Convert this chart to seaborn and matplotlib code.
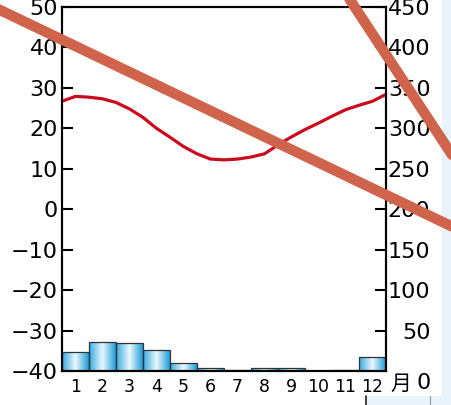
import matplotlib
matplotlib.use('Agg')
import matplotlib.pyplot as plt
import seaborn as sns
import numpy as np
from matplotlib.colors import LinearSegmentedColormap
from matplotlib.patches import Rectangle
from matplotlib.lines import Line2D

# monthly climate data
months = [str(m) for m in range(1, 13)]
precip = [24, 36, 35, 26, 9.5, 4, 1.5, 4, 4, 0, 1, 17]
# temperature curve, read every half month (0.5 / 12.5 = left / right frame)
temp_months = [0.5, 1, 1.5, 2, 2.5, 3, 3.5, 4, 4.5, 5, 5.5, 6, 6.5,
               7, 7.5, 8, 8.5, 9, 9.5, 10, 10.5, 11, 11.5, 12, 12.5]
temp = [26.7, 27.9, 27.7, 27.3, 26.4, 24.8, 22.7, 20.0, 17.8, 15.5, 13.7, 12.4, 12.2,
        12.4, 12.9, 13.7, 15.9, 17.9, 19.7, 21.3, 23.0, 24.6, 25.7, 26.7, 28.4]

temp_ticks = list(range(-40, 51, 10))
precip_ticks = list(range(0, 451, 50))

sns.set_style('ticks')
plt.rcParams['font.family'] = ['DejaVu Sans', 'Noto Sans CJK JP']
plt.rcParams['text.color'] = 'black'
plt.rcParams['xtick.color'] = 'black'
plt.rcParams['ytick.color'] = 'black'

W, H = 452, 405
fig = plt.figure(figsize=(W / 100, H / 100), dpi=100)
fig.patch.set_facecolor('white')

# page bits around the chart (screenshot background)
bg = '#e9f3fb'
fig.add_artist(Rectangle((442 / W, 0), 10 / W, 1, transform=fig.transFigure, color=bg, zorder=0))
fig.add_artist(Rectangle((366 / W, 0), 86 / W, 9 / H, transform=fig.transFigure, color=bg, zorder=0))
fig.add_artist(Line2D([366 / W, 366 / W], [0, 9 / H], transform=fig.transFigure, color='#222', lw=1.2))
fig.add_artist(Line2D([430 / W, 430 / W], [0, 9 / H], transform=fig.transFigure, color='#999', lw=0.8))

ax = fig.add_axes([62 / W, 34 / H, 324 / W, 364 / H])
ax2 = ax.twinx()

# precipitation bars (right axis)
sns.barplot(x=months, y=precip, ax=ax2, width=1.0, color='#3aaee4',
            edgecolor='#333333', linewidth=0.9, saturation=1)
cmap = LinearSegmentedColormap.from_list('bar', ['#35aae2', '#eef8fd', '#1d9ed9'])
grad = np.linspace(0, 1, 64).reshape(1, -1)
for p in ax2.patches:
    if p.get_height() <= 0:
        continue
    x0, y0 = p.get_x(), p.get_y()
    im = ax2.imshow(grad, extent=[x0, x0 + p.get_width(), y0, y0 + p.get_height()],
                    aspect='auto', cmap=cmap, zorder=p.get_zorder() - 0.1)
    im.set_clip_path(p)
    p.set_facecolor('none')
ax2.set_xlim(-0.5, 11.5)
ax2.set_ylim(0, 450)
ax2.set_yticks(precip_ticks)
ax2.set_yticklabels(['' if v == 0 else str(v) for v in precip_ticks])
ax2.set_ylabel('')
for lbl in ax2.get_yticklabels():
    lbl.set_horizontalalignment('right')
ax2.tick_params(axis='y', direction='in', length=8, width=1.5, labelsize=16, pad=32)

# temperature curve (left axis); bar k sits at category index k-1
sns.lineplot(x=[m - 1 for m in temp_months], y=temp, ax=ax, color='#cc0a1e', lw=2.3, sort=False)
ax.set_ylim(-40, 50)
ax.set_yticks(temp_ticks)
ax.set_xlim(-0.5, 11.5)
ax.set_xticks(range(12))
ax.set_xticklabels(months)
ax.tick_params(axis='y', direction='in', length=8, width=1.5, labelsize=16, pad=3)
ax.tick_params(axis='x', length=0, labelsize=12.5, pad=5)
ax.set_zorder(ax2.get_zorder() + 1)
ax.patch.set_visible(False)

for a in (ax, ax2):
    for s in a.spines.values():
        s.set_linewidth(1.5)
        s.set_color('black')
ax2.tick_params(axis='x', length=0)

fig.text(431 / W, 1 - 383 / H, '0', ha='right', va='center', fontsize=16)
fig.text(401 / W, 1 - 384 / H, '月', ha='center', va='center', fontsize=15)

# the two strike-through strokes over the chart
red = '#d0634b'
fig.add_artist(Line2D([-10 / W, 462 / W], [1 - 5.2 / H, 1 - 231.3 / H],
                      transform=fig.transFigure, color=red, lw=7.5, zorder=10))
fig.add_artist(Line2D([343.5 / W, 458 / W], [1 - (-10) / H, 1 - 164 / H],
                      transform=fig.transFigure, color=red, lw=7.5, zorder=10))

fig.savefig('out.png', dpi=100)
